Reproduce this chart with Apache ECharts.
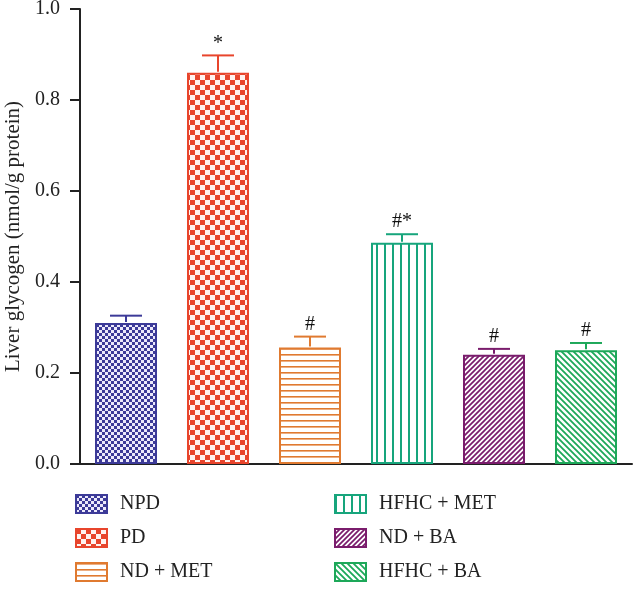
<!DOCTYPE html>
<html>
<head>
<meta charset="utf-8">
<script src="https://cdn.jsdelivr.net/npm/echarts@6/dist/echarts.min.js"></script>
<style>
html,body{margin:0;padding:0;background:#fff;}
#chart{width:634px;height:598px;}
</style>
</head>
<body>
<div id="chart"></div>
<script>
// ---- data ----
var categories = ['NPD', 'PD', 'ND + MET', 'HFHC + MET', 'ND + BA', 'HFHC + BA'];
var means = [0.310, 0.860, 0.256, 0.486, 0.240, 0.250];
var errors = [0.016, 0.038, 0.024, 0.019, 0.013, 0.016];
var marks = ['', '*', '#', '#*', '#', '#'];
var yTicks = [0.0, 0.2, 0.4, 0.6, 0.8, 1.0];
var yTitle = 'Liver glycogen (nmol/g protein)';

var colors = ['#3c3a98', '#e8452c', '#e07a30', '#17a57c', '#7a1c6c', '#1da859'];

function mk(w, h, draw) {
  var c = document.createElement('canvas');
  c.width = w; c.height = h;
  var ctx = c.getContext('2d');
  ctx.fillStyle = '#fff';
  ctx.fillRect(0, 0, w, h);
  draw(ctx, w, h);
  return { image: c, repeat: 'repeat' };
}
function checker(col, s, light) {
  return mk(2 * s, 2 * s, function (ctx) {
    ctx.fillStyle = light; ctx.fillRect(0, 0, 2 * s, 2 * s);
    ctx.fillStyle = col;
    ctx.fillRect(0, 0, s, s);
    ctx.fillRect(s, s, s, s);
  });
}
function hlines(col, p, lw) {
  return mk(4, p, function (ctx) {
    ctx.fillStyle = col; ctx.fillRect(0, 0, 4, lw);
  });
}
function vlines(col, p, lw) {
  return mk(p, 4, function (ctx) {
    ctx.fillStyle = col; ctx.fillRect(0, 0, lw, 4);
  });
}
function diag(col, p, lw, dir) {
  return mk(p, p, function (ctx, w, h) {
    ctx.strokeStyle = col; ctx.lineWidth = lw;
    ctx.beginPath();
    if (dir > 0) {
      ctx.moveTo(-1, p + 1); ctx.lineTo(p + 1, -1);
      ctx.moveTo(-1, 1); ctx.lineTo(1, -1);
      ctx.moveTo(p - 1, p + 1); ctx.lineTo(p + 1, p - 1);
    } else {
      ctx.moveTo(-1, -1); ctx.lineTo(p + 1, p + 1);
      ctx.moveTo(p - 1, -1); ctx.lineTo(p + 1, 1);
      ctx.moveTo(-1, p - 1); ctx.lineTo(1, p + 1);
    }
    ctx.stroke();
  });
}

var fills = [
  checker(colors[0], 3, '#ece9fb'),
  checker(colors[1], 5, '#fff3f0'),
  hlines(colors[2], 6, 1.6),
  vlines(colors[3], 8, 2),
  diag(colors[4], 5, 1.7, 1),
  diag(colors[5], 6, 1.8, -1)
];

var series = categories.map(function (name, i) {
  var d = categories.map(function (c, j) { return j === i ? means[i] : '-'; });
  return {
    name: name,
    type: 'bar',
    data: d,
    barWidth: 62,
    barGap: '-100%',
    itemStyle: { color: fills[i], borderColor: colors[i], borderWidth: 2 },
    emphasis: { disabled: true },
    z: 2
  };
});

series.push({
  type: 'custom',
  data: categories.map(function (c, i) { return [i, means[i], errors[i]]; }),
  z: 5,
  silent: true,
  renderItem: function (params, api) {
    var i = api.value(0);
    var m = api.value(1);
    var e = api.value(2);
    var p0 = api.coord([i, m]);
    var p1 = api.coord([i, m + e]);
    var col = colors[i];
    var children = [
      { type: 'line', shape: { x1: p0[0], y1: p0[1] - 1, x2: p1[0], y2: p1[1] }, style: { stroke: col, lineWidth: 2 } },
      { type: 'line', shape: { x1: p1[0] - 16, y1: p1[1], x2: p1[0] + 16, y2: p1[1] }, style: { stroke: col, lineWidth: 2 } }
    ];
    if (marks[i]) {
      children.push({
        type: 'text',
        style: {
          x: p1[0], y: p1[1] - 2, text: marks[i],
          align: 'center', verticalAlign: 'bottom',
          font: '20px "Liberation Serif"', fill: '#111'
        }
      });
    }
    return { type: 'group', children: children };
  }
});

var legendText = { fontFamily: 'Liberation Serif', fontSize: 20, lineHeight: 20, color: '#222', padding: [0, 0, 0, 8] };
function legendData(list) {
  return list.map(function (i) {
    return { name: categories[i], itemStyle: { borderColor: colors[i], borderWidth: 2 } };
  });
}

var chart = echarts.init(document.getElementById('chart'), null, { renderer: 'canvas' });
chart.setOption({
  animation: false,
  backgroundColor: '#fff',
  grid: { left: 80, right: 2, top: 9, bottom: 134, containLabel: false, outerBoundsMode: 'none' },
  xAxis: {
    type: 'category',
    data: categories,
    axisLine: { lineStyle: { color: '#222', width: 2 } },
    axisTick: { show: false },
    axisLabel: { show: false }
  },
  yAxis: {
    type: 'value',
    min: yTicks[0], max: yTicks[yTicks.length - 1], interval: 0.2,
    name: yTitle,
    nameLocation: 'middle',
    nameGap: 55,
    nameTextStyle: { fontFamily: 'Liberation Serif', fontSize: 21, color: '#222' },
    axisLine: { show: true, lineStyle: { color: '#222', width: 2 } },
    axisTick: { show: true, length: 10, lineStyle: { color: '#222', width: 2 } },
    axisLabel: {
      margin: 20,
      fontFamily: 'Liberation Serif', fontSize: 20, color: '#222',
      formatter: function (v) { return v.toFixed(1); }
    },
    splitLine: { show: false }
  },
  legend: [
    {
      left: 70, top: 489, orient: 'vertical',
      itemWidth: 31, itemHeight: 18, itemGap: 14,
      icon: 'rect',
      textStyle: legendText,
      selectedMode: false,
      data: legendData([0, 1, 2])
    },
    {
      left: 329, top: 489, orient: 'vertical',
      itemWidth: 31, itemHeight: 18, itemGap: 14,
      icon: 'rect',
      textStyle: legendText,
      selectedMode: false,
      data: legendData([3, 4, 5])
    }
  ],
  series: series
});
</script>
</body>
</html>
